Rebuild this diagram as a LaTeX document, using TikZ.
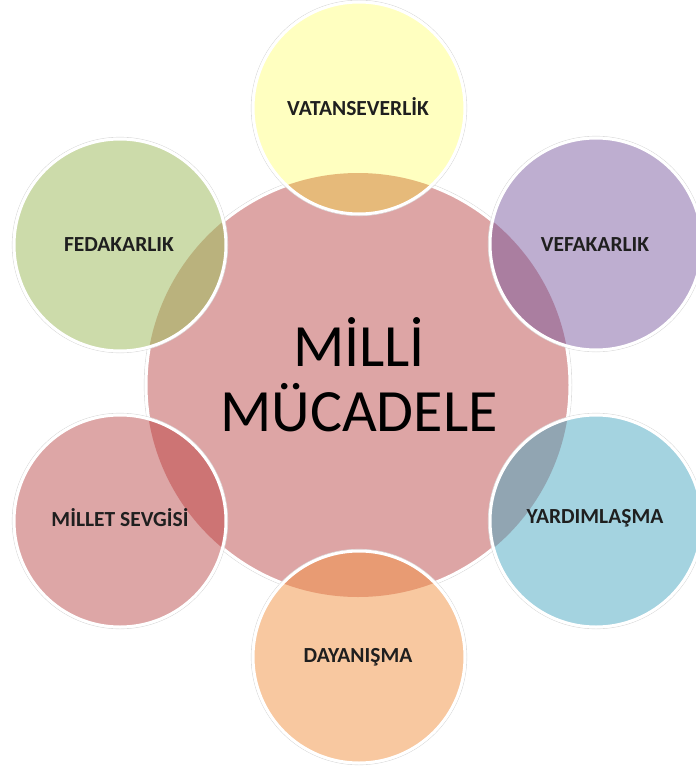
\documentclass[tikz,border=0pt]{standalone}
\usepackage{fontspec}
\setmainfont{Carlito}
\definecolor{cpink}{HTML}{DDA5A5}
\definecolor{cyel}{HTML}{FFFFC0}
\definecolor{cyelo}{HTML}{E6BA7A}
\definecolor{cgrn}{HTML}{CCDBAA}
\definecolor{cgrno}{HTML}{BAB27D}
\definecolor{cpur}{HTML}{BEAED0}
\definecolor{cpuro}{HTML}{AA7EA0}
\definecolor{cmil}{HTML}{DDA6A6}
\definecolor{cmilo}{HTML}{CD7474}
\definecolor{cblu}{HTML}{A4D3E0}
\definecolor{cbluo}{HTML}{91A5B2}
\definecolor{corn}{HTML}{F8C8A0}
\definecolor{corno}{HTML}{E89B73}
\begin{document}
\begin{tikzpicture}[x=1pt,y=-1pt,
  lbl/.style={font=\bfseries\fontsize{21.5}{24}\selectfont, text=black!88, inner sep=0pt},
  ring/.style={draw=white, line width=3pt},
  halo/.style={draw=black!15, line width=0.6pt}]
\useasboundingbox (0,0) rectangle (696,771);
\def\R{212}
\def\r{106}
\coordinate (c) at (358,385);
\coordinate (vat) at (359,108);
\coordinate (fed) at (120,245);
\coordinate (vef) at (596,244);
\coordinate (mil) at (120,521);
\coordinate (yar) at (596,521);
\coordinate (day) at (359,657);
% central circle
\draw[halo] (c) circle (\R+1.8);
\fill[cpink] (c) circle (\R);
\draw[ring] (c) circle (\R);
% outer circles
\foreach \p/\col/\ov in {vat/cyel/cyelo, fed/cgrn/cgrno, vef/cpur/cpuro, mil/cmil/cmilo, yar/cblu/cbluo, day/corn/corno}{
  \draw[halo] (\p) circle (\r+1.8);
  \fill[\col] (\p) circle (\r);
  \begin{scope}
    \clip (c) circle (\R);
    \fill[\ov] (\p) circle (\r);
  \end{scope}
  \draw[ring] (\p) circle (\r);
}
% labels
\node[lbl] (tvat) at (358,107) {VATANSEVERLİK};
\node[lbl] (tfed) at (119,245) {FEDAKARLIK};
\node[lbl] (tvef) at (595,245) {VEFAKARLIK};
\node[lbl] (tmil) at (120,518) {MİLLET SEVGİSİ};
\node[lbl] (tyar) at (595,518) {YARDIMLAŞMA};
\node[lbl] (tday) at (358,657) {DAYANIŞMA};
\node[font=\fontsize{60}{65}\selectfont, align=center, inner sep=0pt] (tc) at (359,375) {MİLLİ\\MÜCADELE};
\end{tikzpicture}
\end{document}
